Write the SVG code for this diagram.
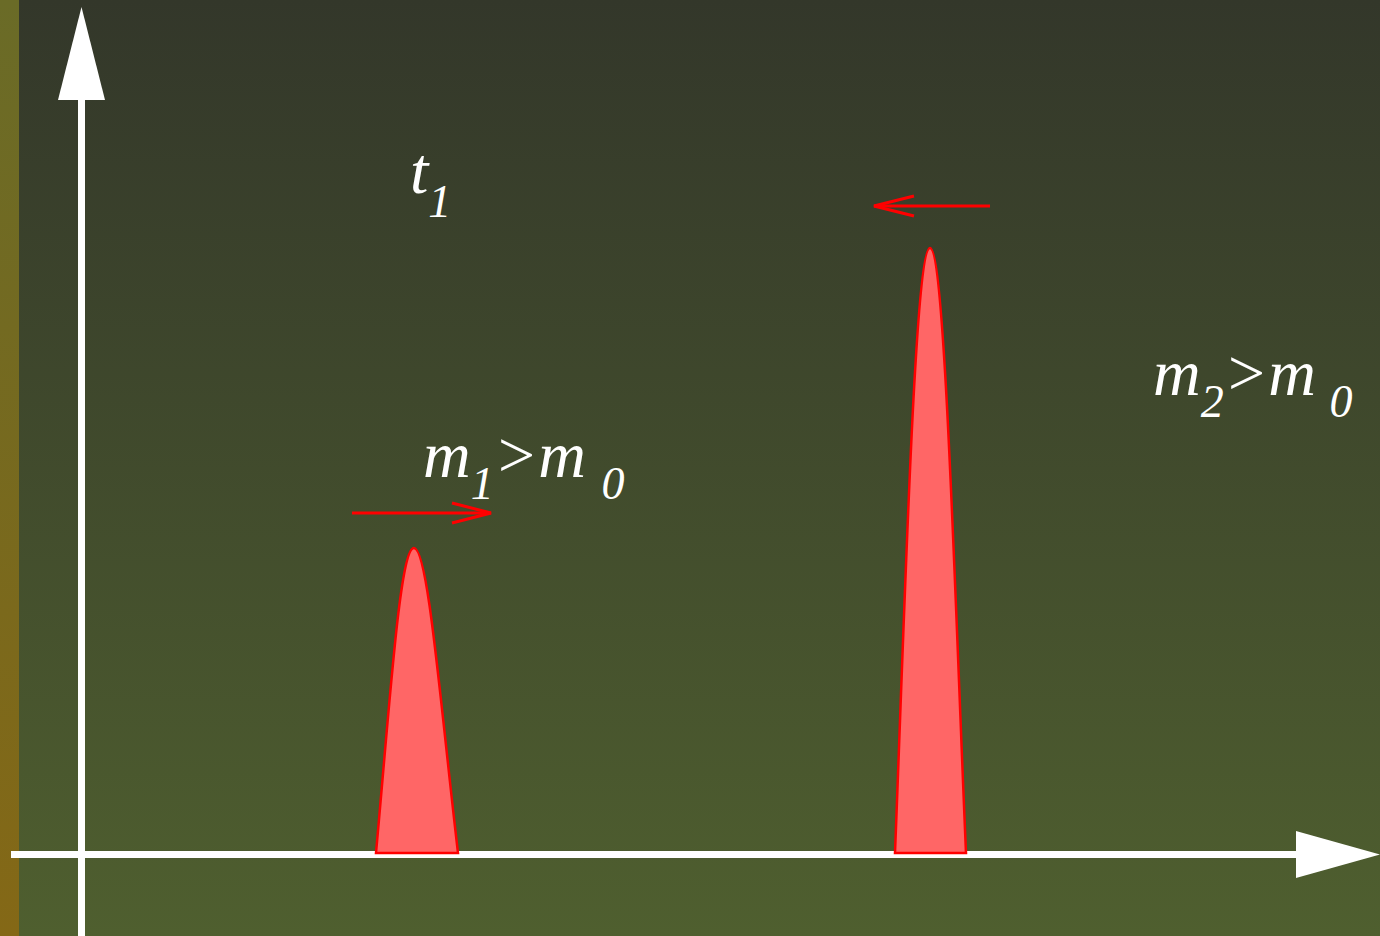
<svg xmlns="http://www.w3.org/2000/svg" width="1380" height="936" viewBox="0 0 1380 936">
<defs>
<linearGradient id="bg" x1="0" y1="0" x2="0" y2="1">
<stop offset="0" stop-color="#33372a"/>
<stop offset="1" stop-color="#4f5f2f"/>
</linearGradient>
<linearGradient id="strip" x1="0" y1="0" x2="0" y2="1">
<stop offset="0" stop-color="#6a6b27"/>
<stop offset="1" stop-color="#846816"/>
</linearGradient>
<style>
.ax{stroke:#fff;stroke-width:7;fill:none}
.head{fill:#fff}
.peak{fill:#ff6666;stroke:#ff0000;stroke-width:2.5}
.rarrow{stroke:#ff0000;stroke-width:3;fill:none}
</style>
</defs>
<rect width="1380" height="936" fill="url(#bg)"/>
<rect width="19" height="936" fill="url(#strip)"/>
<g id="connectors">
<line class="ax" x1="81.5" y1="936" x2="81.5" y2="95"/>
<polygon class="head" points="81.5,7 58,100 105,100"/>
<line class="ax" x1="11" y1="854.5" x2="1300" y2="854.5"/>
<polygon class="head" points="1380,854.5 1296,831 1296,878"/>
<g id="arrow1">
<line class="rarrow" x1="352" y1="513" x2="491" y2="513"/>
<polyline class="rarrow" points="452,503 491,513 452,523"/>
</g>
<g id="arrow2">
<line class="rarrow" x1="990" y1="206" x2="874" y2="206"/>
<polyline class="rarrow" points="914,196 874,206 914,216"/>
</g>
</g>
<g id="peak1">
<path class="peak" d="M376,853 C390,700 400,548 414,548 C428,548 440,700 458,853 Z"/>
</g>
<g id="peak2">
<path class="peak" d="M895,853 C905,600 915,248 930,248 C945,248 955,600 966,853 Z"/>
</g>
<g id="label-t1">
<text x="410" y="193" fill="#fff" font-family="Liberation Serif" font-style="italic" font-size="66">t<tspan font-size="46" dy="24">1</tspan></text>
</g>
<g id="label-m1">
<text x="423" y="477" fill="#fff" font-family="Liberation Serif" font-style="italic" font-size="66">m<tspan font-size="46" dy="22">1</tspan><tspan dy="-22">&gt;m</tspan><tspan font-size="46" dy="22" dx="4"> 0</tspan></text>
</g>
<g id="label-m2">
<text x="1153" y="395" fill="#fff" font-family="Liberation Serif" font-style="italic" font-size="66">m<tspan font-size="46" dy="22">2</tspan><tspan dy="-22">&gt;m</tspan><tspan font-size="46" dy="22" dx="2"> 0</tspan></text>
</g>
</svg>
